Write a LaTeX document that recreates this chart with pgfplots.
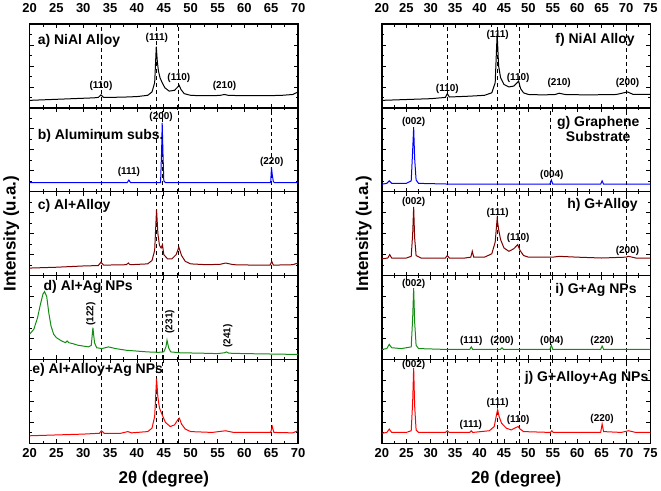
\documentclass[border=0pt]{standalone}
\usepackage{fontspec}
\setmainfont{Liberation Sans}
\usepackage{pgfplots}
\pgfplotsset{compat=1.18}
\usepgfplotslibrary{groupplots}
\definecolor{wine}{RGB}{128,0,0}
\definecolor{dgreen}{RGB}{20,140,20}
\begin{document}
\begin{tikzpicture}[
  pk/.style={font=\fontsize{10}{11}\selectfont\bfseries, inner sep=0pt},
  pl/.style={font=\fontsize{14}{15}\selectfont\bfseries, inner sep=0pt},
  dl/.style={black, line width=0.9pt, dash pattern=on 4pt off 3pt}]
\begin{groupplot}[group style={group size=2 by 5, vertical sep=0pt, horizontal sep=84pt},
 width=269pt, height=84pt, scale only axis,
 xmin=20, ymin=0, ymax=1,
 xtick distance=5, minor x tick num=1,
 ytick={0.25,0.5,0.75}, minor ytick={0.125,0.375,0.625,0.875}, yticklabels={},
 tick align=inside, major tick length=4pt, minor tick length=2.5pt,
 tick style={black, line width=0.8pt},
 axis line style={line width=1.2pt},
 tick label style={font=\fontsize{13}{14}\selectfont\bfseries},
 /pgf/number format/assume math mode=true,
 label style={font=\fontsize{17}{18}\selectfont\bfseries},
 xtick pos=both, ytick pos=both,
 every axis plot/.append style={line width=1pt, mark=none},
]
% ---------- a) NiAl Alloy (c1r1)
\nextgroupplot[xmax=70, xticklabel pos=upper, xticklabel style={yshift=8pt}]
\addplot[dl] coordinates {(33.3,0) (33.3,1)};
\addplot[dl] coordinates {(43.7,0) (43.7,1)};
\addplot[dl] coordinates {(47.8,0) (47.8,1)};
\addplot[black] coordinates {(20,0.09) (22,0.095) (24,0.10) (26,0.105) (28,0.11) (30,0.115) (32,0.12) (32.8,0.125) (33.3,0.155) (33.8,0.125) (35,0.125) (38,0.13) (40,0.135) (42,0.15) (42.8,0.19) (43.3,0.30) (43.6,0.73) (43.8,0.55) (44.0,0.44) (44.3,0.36) (44.7,0.30) (45.2,0.24) (46,0.20) (47,0.21) (47.6,0.25) (47.85,0.27) (48.2,0.22) (48.8,0.17) (50,0.15) (52,0.145) (54,0.145) (55.5,0.15) (56.3,0.16) (57,0.15) (60,0.145) (64,0.145) (67,0.15) (69,0.16) (70,0.19)};
\node[pl, anchor=west] at (axis cs:21.5,0.80) {a) NiAl Alloy};
\node[pk] at (axis cs:43.7,0.84) {(111)};
\node[pk] at (axis cs:33.3,0.26) {(110)};
\node[pk] at (axis cs:47.8,0.36) {(110)};
\node[pk] at (axis cs:56.3,0.26) {(210)};
% ---------- f) NiAl Alloy (c2r1)
\nextgroupplot[xmax=75, xticklabel pos=upper, xticklabel style={yshift=8pt}]
\addplot[dl] coordinates {(33.4,0) (33.4,1)};
\addplot[dl] coordinates {(43.7,0) (43.7,1)};
\addplot[dl] coordinates {(48.1,0) (48.1,1)};
\addplot[dl] coordinates {(70.0,0) (70.0,1)};
\addplot[black] coordinates {(20,0.09) (25,0.10) (30,0.11) (33,0.125) (33.4,0.17) (33.8,0.13) (38,0.14) (41,0.15) (42.5,0.18) (43.2,0.30) (43.6,0.89) (43.9,0.50) (44.3,0.36) (45,0.28) (46,0.25) (47,0.26) (47.7,0.30) (48,0.32) (48.4,0.23) (49,0.18) (50,0.16) (53,0.155) (55.5,0.16) (56.3,0.175) (57.5,0.16) (62,0.155) (68,0.16) (70.3,0.19) (71.5,0.16) (75,0.16)};
\node[pl, anchor=east] at (axis cs:71.8,0.81) {f) NiAl Alloy};
\node[pk] at (axis cs:43.7,0.87) {(111)};
\node[pk] at (axis cs:33.4,0.23) {(110)};
\node[pk] at (axis cs:47.9,0.36) {(110)};
\node[pk] at (axis cs:56.3,0.30) {(210)};
\node[pk] at (axis cs:70.3,0.30) {(200)};
% ---------- b) Aluminum (c1r2)
\nextgroupplot[xmax=70, xticklabels={}]
\addplot[dl] coordinates {(33.3,0) (33.3,1)};
\addplot[dl] coordinates {(43.7,0) (43.7,1)};
\addplot[dl] coordinates {(44.7,0) (44.7,1)};
\addplot[dl] coordinates {(47.8,0) (47.8,1)};
\addplot[dl] coordinates {(65.1,0) (65.1,1)};
\addplot[blue] coordinates {(20,0.11) (30,0.11) (38.2,0.11) (38.5,0.14) (38.8,0.11) (44.4,0.11) (44.6,0.50) (44.7,0.82) (44.85,0.45) (45,0.13) (45.3,0.11) (55,0.11) (64.9,0.11) (65.05,0.29) (65.2,0.20) (65.4,0.12) (65.6,0.11) (70,0.11)};
\node[pl, anchor=west] at (axis cs:21.5,0.67) {b) Aluminum subs.};
\node[pk] at (axis cs:44.5,0.89) {(200)};
\node[pk] at (axis cs:38.5,0.24) {(111)};
\node[pk] at (axis cs:65.1,0.35) {(220)};
% ---------- g) Graphene (c2r2)
\nextgroupplot[xmax=75, xticklabels={}]
\addplot[dl] coordinates {(33.4,0) (33.4,1)};
\addplot[dl] coordinates {(43.7,0) (43.7,1)};
\addplot[dl] coordinates {(48.1,0) (48.1,1)};
\addplot[dl] coordinates {(54.6,0) (54.6,1)};
\addplot[dl] coordinates {(70.0,0) (70.0,1)};
\addplot[blue] coordinates {(20,0.09) (21,0.10) (21.5,0.13) (22,0.10) (25,0.10) (26,0.13) (26.3,0.50) (26.5,0.77) (26.7,0.40) (27,0.14) (27.5,0.10) (35,0.09) (40,0.09) (54.4,0.09) (54.7,0.14) (55,0.09) (64.8,0.09) (65.1,0.13) (65.4,0.09) (75,0.09)};
\node[pl, align=center] at (axis cs:64.3,0.745) {g) Graphene\\Substrate};
\node[pk] at (axis cs:26.5,0.83) {(002)};
\node[pk] at (axis cs:54.8,0.20) {(004)};
% ---------- c) Al+Alloy (c1r3)
\nextgroupplot[xmax=70, xticklabels={}, ylabel={Intensity (u.a.)}]
\addplot[dl] coordinates {(33.3,0) (33.3,1)};
\addplot[dl] coordinates {(43.7,0) (43.7,1)};
\addplot[dl] coordinates {(44.7,0) (44.7,1)};
\addplot[dl] coordinates {(47.8,0) (47.8,1)};
\addplot[dl] coordinates {(65.1,0) (65.1,1)};
\addplot[wine] coordinates {(20,0.09) (25,0.10) (30,0.115) (32.8,0.12) (33.3,0.16) (33.8,0.125) (38,0.13) (38.4,0.15) (38.7,0.13) (42,0.14) (42.8,0.18) (43.3,0.30) (43.65,0.79) (43.9,0.50) (44.2,0.36) (44.5,0.33) (44.75,0.37) (45,0.25) (45.7,0.20) (46.5,0.20) (47.3,0.25) (47.8,0.34) (48.3,0.24) (49,0.17) (50,0.14) (53,0.13) (55.5,0.135) (56.5,0.15) (58,0.13) (62,0.125) (64.8,0.125) (65.1,0.17) (65.4,0.125) (69,0.13) (70,0.15)};
\node[pl, anchor=west] at (axis cs:21.5,0.83) {c) Al+Alloy};
% ---------- h) G+Alloy (c2r3)
\nextgroupplot[xmax=75, xticklabels={}, ylabel={Intensity (u.a.)}]
\addplot[dl] coordinates {(33.4,0) (33.4,1)};
\addplot[dl] coordinates {(43.7,0) (43.7,1)};
\addplot[dl] coordinates {(48.1,0) (48.1,1)};
\addplot[dl] coordinates {(54.6,0) (54.6,1)};
\addplot[dl] coordinates {(70.0,0) (70.0,1)};
\addplot[wine] coordinates {(20,0.20) (21.2,0.21) (21.6,0.25) (22,0.21) (25,0.21) (26,0.23) (26.3,0.50) (26.5,0.82) (26.7,0.45) (27,0.24) (28,0.21) (33,0.21) (33.4,0.24) (33.8,0.21) (37,0.21) (38.2,0.22) (38.5,0.29) (38.8,0.22) (41,0.22) (42.5,0.26) (43.2,0.40) (43.6,0.68) (43.9,0.55) (44.3,0.43) (45,0.33) (46,0.29) (47,0.32) (47.8,0.37) (48.3,0.30) (49,0.24) (50,0.22) (55,0.22) (56.3,0.23) (60,0.22) (65,0.21) (70,0.22) (70.5,0.23) (72,0.21) (75,0.21)};
\node[pl, anchor=east] at (axis cs:72.4,0.84) {h) G+Alloy};
\node[pk] at (axis cs:26.5,0.88) {(002)};
\node[pk] at (axis cs:43.7,0.75) {(111)};
\node[pk] at (axis cs:47.9,0.45) {(110)};
\node[pk] at (axis cs:70.3,0.30) {(200)};
% ---------- d) Al+Ag NPs (c1r4)
\nextgroupplot[xmax=70, xticklabels={}]
\addplot[dl] coordinates {(33.3,0) (33.3,1)};
\addplot[dl] coordinates {(43.7,0) (43.7,1)};
\addplot[dl] coordinates {(44.7,0) (44.7,1)};
\addplot[dl] coordinates {(47.8,0) (47.8,1)};
\addplot[dl] coordinates {(65.1,0) (65.1,1)};
\addplot[dgreen] coordinates {(20,0.30) (20.8,0.36) (21.5,0.50) (22,0.65) (22.5,0.78) (22.8,0.81) (23.2,0.75) (23.6,0.55) (24,0.40) (24.5,0.30) (25,0.26) (26,0.22) (26.7,0.20) (27,0.22) (27.3,0.20) (28,0.19) (29,0.17) (30,0.16) (31,0.15) (31.5,0.17) (31.8,0.38) (32.1,0.20) (32.5,0.14) (33.5,0.13) (34.7,0.15) (36,0.13) (38,0.11) (40,0.10) (42,0.09) (44,0.085) (45,0.09) (45.4,0.15) (45.6,0.23) (45.9,0.14) (46.3,0.09) (48,0.08) (52,0.075) (55,0.07) (56.3,0.08) (56.7,0.09) (57.1,0.075) (60,0.07) (65,0.065) (70,0.06)};
\node[pl, anchor=west] at (axis cs:22.6,0.87) {d) Al+Ag NPs};
\node[pk, rotate=90] at (axis cs:31.4,0.54) {(122)};
\node[pk, rotate=90] at (axis cs:46.1,0.45) {(231)};
\node[pk, rotate=90] at (axis cs:56.9,0.28) {(241)};
% ---------- i) G+Ag NPs (c2r4)
\nextgroupplot[xmax=75, xticklabels={}]
\addplot[dl] coordinates {(33.4,0) (33.4,1)};
\addplot[dl] coordinates {(43.7,0) (43.7,1)};
\addplot[dl] coordinates {(48.1,0) (48.1,1)};
\addplot[dl] coordinates {(54.6,0) (54.6,1)};
\addplot[dl] coordinates {(70.0,0) (70.0,1)};
\addplot[dgreen] coordinates {(20,0.12) (21,0.13) (21.5,0.18) (22,0.14) (24,0.13) (26,0.15) (26.3,0.50) (26.5,0.85) (26.7,0.45) (27,0.17) (27.5,0.13) (33,0.12) (38,0.12) (38.3,0.15) (38.6,0.12) (44.3,0.12) (44.6,0.14) (44.9,0.12) (54.4,0.12) (54.7,0.17) (55,0.12) (64.8,0.12) (65.1,0.16) (65.4,0.12) (75,0.12)};
\node[pl, anchor=east] at (axis cs:72.2,0.83) {i) G+Ag NPs};
\node[pk] at (axis cs:26.5,0.90) {(002)};
\node[pk] at (axis cs:38.3,0.22) {(111)};
\node[pk] at (axis cs:44.6,0.22) {(200)};
\node[pk] at (axis cs:54.8,0.22) {(004)};
\node[pk] at (axis cs:65.1,0.22) {(220)};
% ---------- e) Al+Alloy+Ag NPs (c1r5)
\nextgroupplot[xmax=70, xlabel={2θ (degree)}, xticklabel style={yshift=-2pt}, xlabel style={yshift=-6pt}]
\addplot[dl] coordinates {(33.3,0) (33.3,1)};
\addplot[dl] coordinates {(43.7,0) (43.7,1)};
\addplot[dl] coordinates {(44.7,0) (44.7,1)};
\addplot[dl] coordinates {(47.8,0) (47.8,1)};
\addplot[dl] coordinates {(65.1,0) (65.1,1)};
\addplot[red] coordinates {(20,0.09) (25,0.10) (30,0.11) (33,0.12) (33.4,0.15) (33.9,0.12) (37,0.12) (38.3,0.14) (39,0.125) (42,0.14) (42.8,0.18) (43.3,0.32) (43.65,0.77) (43.9,0.55) (44.2,0.42) (44.7,0.34) (45.3,0.25) (46.2,0.20) (47,0.22) (47.6,0.28) (47.9,0.30) (48.3,0.23) (49,0.17) (50,0.14) (54,0.13) (56.5,0.15) (58,0.13) (64.9,0.13) (65.2,0.20) (65.5,0.13) (69,0.125) (70,0.15)};
\node[pl, anchor=west] at (axis cs:20.5,0.88) {e) Al+Alloy+Ag NPs};
% ---------- j) G+Alloy+Ag NPs (c2r5)
\nextgroupplot[xmax=75, xlabel={2θ (degree)}, xticklabel style={yshift=-2pt}, xlabel style={yshift=-6pt}]
\addplot[dl] coordinates {(33.4,0) (33.4,1)};
\addplot[dl] coordinates {(43.7,0) (43.7,1)};
\addplot[dl] coordinates {(48.1,0) (48.1,1)};
\addplot[dl] coordinates {(54.6,0) (54.6,1)};
\addplot[dl] coordinates {(70.0,0) (70.0,1)};
\addplot[red] coordinates {(20,0.12) (21,0.13) (21.5,0.17) (22,0.13) (25,0.13) (26,0.15) (26.3,0.50) (26.5,0.90) (26.7,0.45) (27,0.16) (27.5,0.13) (33,0.13) (33.4,0.15) (33.8,0.13) (38,0.13) (38.3,0.15) (38.6,0.13) (42,0.15) (43,0.20) (43.5,0.35) (43.7,0.40) (44,0.32) (44.5,0.24) (45.5,0.18) (46.5,0.16) (47.5,0.19) (47.9,0.20) (48.3,0.17) (49,0.14) (54.5,0.13) (54.8,0.15) (55.1,0.13) (64.8,0.13) (65.1,0.23) (65.4,0.14) (69,0.13) (70.5,0.15) (72,0.13) (75,0.13)};
\node[pl, anchor=east] at (axis cs:74.6,0.78) {j) G+Alloy+Ag NPs};
\node[pk] at (axis cs:26.5,0.93) {(002)};
\node[pk] at (axis cs:43.7,0.48) {(111)};
\node[pk] at (axis cs:38.2,0.22) {(111)};
\node[pk] at (axis cs:47.9,0.28) {(110)};
\node[pk] at (axis cs:65.1,0.29) {(220)};
\end{groupplot}
\end{tikzpicture}
\end{document}
